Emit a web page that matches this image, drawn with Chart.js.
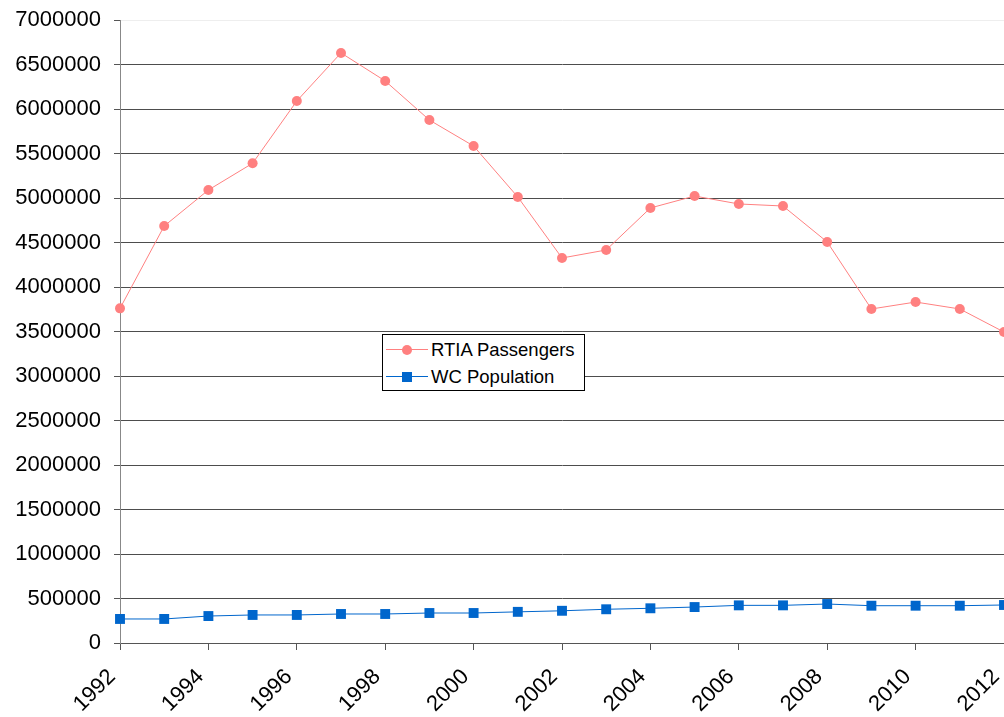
<!DOCTYPE html>
<html>
<head>
<meta charset="utf-8">
<script src="https://cdn.jsdelivr.net/npm/chart.js@4.4.1/dist/chart.umd.min.js"></script>
<style>
  body { margin: 0; background: #fff; }
  #wrap { position: relative; width: 1004px; height: 717px; overflow: hidden; }
  #box { position: absolute; left: 0; top: 0; width: 1011px; height: 717px; }
  #legend {
    position: absolute; left: 382px; top: 334px; width: 201px; height: 55px;
    border: 1px solid #000; background: #fff;
    font: 18.5px "Liberation Sans", Arial, sans-serif; color: #000;
  }
  .row { position: relative; height: 27px; line-height: 27px; padding-left: 48px; }
  .row:first-child { margin-top: 1px; }
  .ln { position: absolute; left: 3px; top: 13px; width: 42px; height: 1px; }
  .mk { position: absolute; left: 19px; top: 9px; width: 10px; height: 10px; }
</style>
</head>
<body>
<div id="wrap">
  <div id="box"><canvas id="chart"></canvas></div>
  <div id="legend"></div>
</div>
<script>
const years = [1992, 1993, 1994, 1995, 1996, 1997, 1998, 1999, 2000, 2001, 2002,
               2003, 2004, 2005, 2006, 2007, 2008, 2009, 2010, 2011, 2012];
const rtiaPassengers = [3760000, 4685000, 5090000, 5390000, 6090000, 6630000, 6315000,
                        5876000, 5584000, 5011000, 4326000, 4416000, 4888000, 5022000,
                        4933000, 4910000, 4506000, 3753000, 3831000, 3753000, 3494000];
const wcPopulation = [270000, 270000, 303000, 315000, 315000, 326000, 326000, 337000,
                      337000, 350000, 362000, 379000, 390000, 404000, 423000, 423000,
                      438000, 419000, 419000, 419000, 427000];

const font = { family: '"Liberation Sans", Arial, sans-serif', size: 22 };

let series = [
  { label: 'RTIA Passengers', values: rtiaPassengers, color: '#FF8080', style: 'circle', radius: 5 },
  { label: 'WC Population', values: wcPopulation, color: '#0066CC', style: 'rect', radius: 7 }
];

let chart = new Chart(document.getElementById('chart'), {
  type: 'line',
  data: {
    datasets: series.map(s => ({
      label: s.label,
      data: years.map((y, i) => ({ x: y, y: s.values[i] })),
      borderColor: s.color,
      backgroundColor: s.color,
      borderWidth: 1,
      pointStyle: s.style,
      pointRadius: s.radius,
      pointBorderWidth: 0,
      pointBackgroundColor: s.color,
      tension: 0,
      clip: false
    }))
  },
  options: {
    responsive: true,
    maintainAspectRatio: false,
    animation: false,
    layout: { padding: { top: 20, right: 0, left: 0, bottom: 0 } },
    plugins: { legend: { display: false }, tooltip: { enabled: false } },
    scales: {
      x: {
        type: 'linear',
        min: 1992,
        max: 2012,
        afterFit: s => { s.height = 74; s.paddingRight = 0; s.paddingLeft = 0; },
        border: { color: '#555', width: 1 },
        grid: { drawOnChartArea: false, drawTicks: true, tickLength: 7, color: '#555' },
        ticks: {
          stepSize: 2,
          autoSkip: false,
          maxRotation: 45,
          minRotation: 45,
          padding: 14,
          labelOffset: -8,
          color: '#000',
          font: font,
          callback: v => String(v)
        }
      },
      y: {
        min: 0,
        max: 7000000,
        afterFit: s => { s.width = 120; s.paddingTop = 0; s.paddingBottom = 0; },
        border: { color: '#888', width: 1 },
        grid: {
          color: ctx => ctx.tick && ctx.tick.value === 7000000 ? '#eeeeee' : '#4d4d4d',
          tickColor: '#555',
          tickLength: 6
        },
        ticks: {
          stepSize: 500000,
          padding: 13,
          color: '#000',
          font: font,
          callback: v => String(v)
        }
      }
    }
  }
});

// legend box inside the plot, as in the original
const legend = document.getElementById('legend');
series.forEach(s => {
  const row = document.createElement('div');
  row.className = 'row';
  row.innerHTML = `<span class="ln" style="background:${s.color}"></span>` +
    `<span class="mk" style="background:${s.color};border-radius:${s.style === 'circle' ? '50%' : '0'}"></span>` +
    s.label;
  legend.appendChild(row);
});
</script>
</body>
</html>
